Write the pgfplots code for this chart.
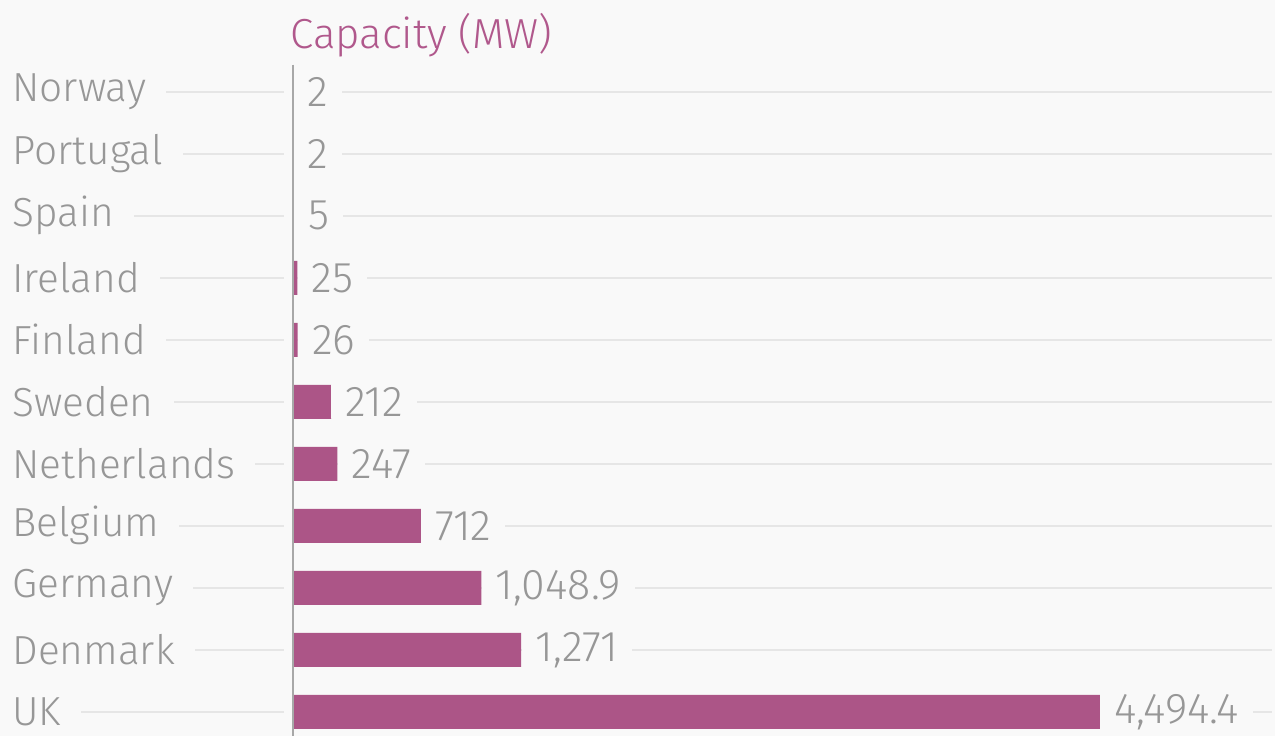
\documentclass[border=0pt]{standalone}
\usepackage{pgfplots}
\pgfplotsset{compat=1.18}
\usepackage{fontspec}
\setmainfont{Fira Sans}[UprightFont=* Light]

\definecolor{bg}{HTML}{F9F9F9}
\definecolor{barcol}{HTML}{AC5587}
\definecolor{labelgray}{HTML}{979797}
\definecolor{gridgray}{HTML}{E6E6E6}
\definecolor{axisgray}{HTML}{A8A8A8}
\definecolor{titlecol}{HTML}{B0588C}

\begin{document}%
\pagecolor{bg}%
\begin{tikzpicture}
\begin{axis}[
  set layers,
  at={(3pt,0pt)}, anchor=south west,
  scale only axis,
  width=633pt, height=335.75pt,
  xbar, bar width=17pt,
  xmin=-1598, xmax=5452,
  ymin=-0.44, ymax=10.39, y dir=reverse,
  ytick={0,...,10},
  yticklabels={Norway,Portugal,Spain,Ireland,Finland,Sweden,Netherlands,Belgium,Germany,Denmark,UK},
  xtick=\empty,
  axis line style={draw=none},
  major tick length=0pt,
  clip=false,
  yticklabel style={anchor=west, xshift=-7pt, font=\fontsize{20.3}{24}\selectfont,
    text=labelgray, fill=bg, inner xsep=10pt, inner ysep=1pt},
  nodes near coords,
  nodes near coords style={anchor=west, font=\fontsize{21.5}{25}\selectfont,
    text=labelgray, fill=bg, inner xsep=7pt, inner ysep=1pt},
  /pgf/number format/.cd, fixed, precision=1, 1000 sep={,}, assume math mode=true,
]
\pgfplotsinvokeforeach{0,...,10}{
  \begin{pgfonlayer}{axis background}
    \draw[gridgray, line width=0.75pt] (axis cs:-1598,#1) -- (axis cs:-50,#1);
    \draw[gridgray, line width=0.75pt] (axis cs:0,#1) -- (axis cs:5452,#1);
  \end{pgfonlayer}
}
\addplot[fill=barcol, draw=none] coordinates {
  (2,0) (2,1) (5,2) (25,3) (26,4) (212,5) (247,6) (712,7) (1048.9,8) (1271,9) (4494.4,10)
};
\begin{pgfonlayer}{axis foreground}
  \draw[axisgray, line width=0.8pt] (axis cs:0,-0.44) -- (axis cs:0,10.39);
\end{pgfonlayer}
\end{axis}
\node[anchor=base west, inner sep=0pt, text=titlecol, font=\fontsize{21}{25}\selectfont]
  at (145pt,344pt) {Capacity (MW)};
% fixed page extent
\pgfresetboundingbox
\path (0,0) rectangle (637.5pt,368pt);
\end{tikzpicture}%
\end{document}
